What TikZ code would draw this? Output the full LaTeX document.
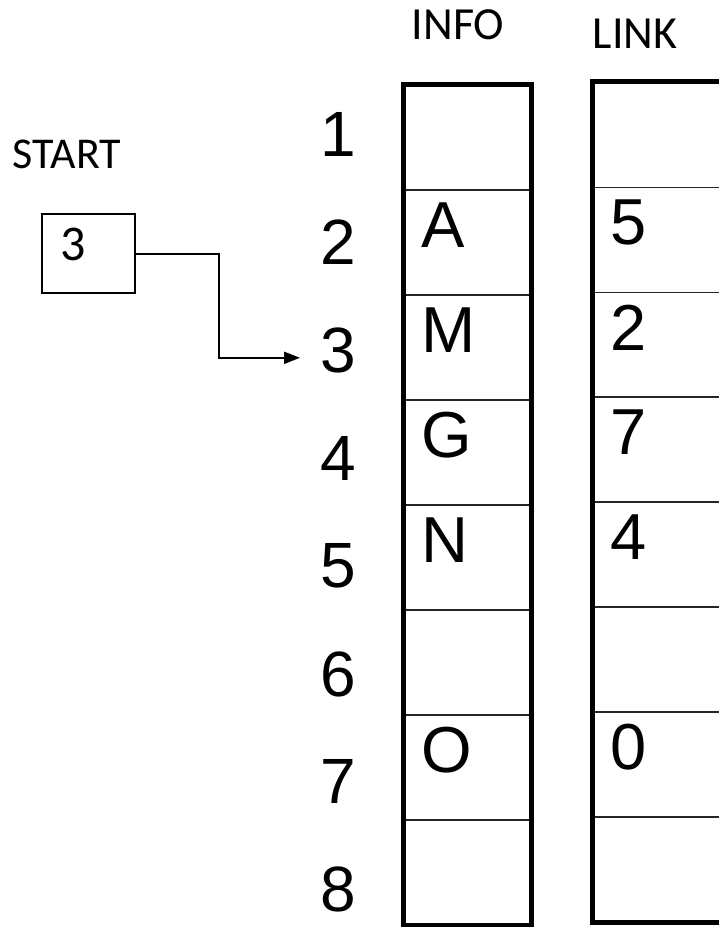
\documentclass[tikz,border=0pt]{standalone}
\usepackage{fontspec}
\setmainfont{Liberation Sans}
\newfontfamily\carlito{Carlito}
\usetikzlibrary{arrows.meta, positioning, calc}

\begin{document}
\begin{tikzpicture}[
  x=1pt, y=-1pt,
  cell/.style={draw=black!85, line width=1.5pt, minimum width=127pt, minimum height=105pt, inner sep=0pt},
  frame/.style={draw, line width=5pt},
  entry/.style={anchor=north west, inner sep=0pt, font=\fontsize{65}{65}\selectfont},
  idx/.style={inner sep=0pt, font=\fontsize{64}{64}\selectfont},
  head/.style={inner sep=0pt, font=\carlito\fontsize{46}{46}\selectfont}
]
  \useasboundingbox (0,0) rectangle (719,927);

  % columns
  \foreach \i/\a/\b in {1/{}/{},2/A/5,3/M/2,4/G/7,5/N/4,6/{}/{},7/O/0,8/{}/{}} {
    \node[cell] (info-\i) at (467.5, {137.5+105*(\i-1)}) {};
    \node[entry] (infoval-\i) at ([xshift=18pt, yshift=-13pt]info-\i.north west) {\a};
    \node[cell, minimum width=132pt, minimum height=104.9pt] (link-\i) at (659, {134.95+104.9*(\i-1)}) {};
    \node[entry] (linkval-\i) at ([xshift=18pt, yshift=-13pt]link-\i.north west) {\b};
    \node[idx] (num-\i) at (338, {134.5+107.9*(\i-1)}) {\i};
  }
  \draw[frame] (info-1.north west) rectangle (info-8.south east);
  \draw[frame] (link-1.north west) rectangle (link-8.south east);

  \node[head] (infohead) at (458, 25) {INFO};
  \node[head] (linkhead) at (635, 34) {LINK};

  % start pointer
  \node[head, font=\carlito\fontsize{44}{44}\selectfont] (starthead) at (67, 154) {START};
  \node[draw, line width=2pt, minimum width=93pt, minimum height=79pt] (startbox) at (88.5, 253.5) {};
  \node[inner sep=0pt, font=\carlito\fontsize{50}{50}\selectfont] (startval) at ([xshift=-15.5pt, yshift=9.5pt]startbox.center) {3};
  \draw[line width=2pt, -{Triangle[length=16pt, width=12pt]}] (startbox.east) -- ++(83,0) |- ([xshift=-20pt, yshift=-7.5pt]num-3.west);
\end{tikzpicture}
\end{document}
